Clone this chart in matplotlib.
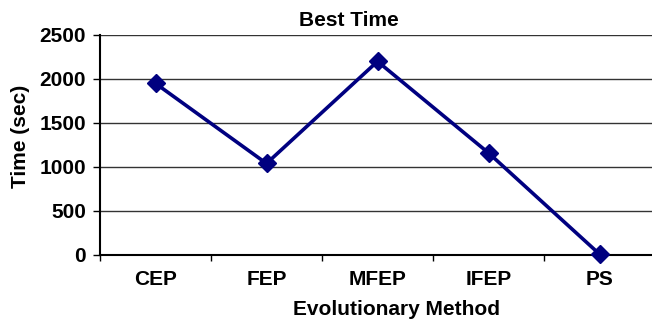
import matplotlib
matplotlib.use("Agg")
import matplotlib.pyplot as plt

methods = ["CEP", "FEP", "MFEP", "IFEP", "PS"]
best_time = [1950, 1040, 2200, 1160, 10]
y_ticks = [0, 500, 1000, 1500, 2000, 2500]

plt.rcParams['font.family'] = ['Liberation Sans', 'DejaVu Sans']
plt.rcParams['font.weight'] = 'bold'

W, H = 652, 323
FS = 15

fig = plt.figure(figsize=(W / 100, H / 100), dpi=100)
ax = fig.add_axes([100 / W, 1 - 255 / H, 555 / W, 220 / H])

x = list(range(len(methods)))
ax.plot(x, best_time, color="#000080", lw=2.6, marker="D", ms=9.5,
        markerfacecolor="#000080", markeredgecolor="#000080", zorder=3,
        clip_on=False)

ax.set_xlim(-0.5, len(methods) - 0.5)
ax.set_ylim(0, 2500)
ax.set_yticks(y_ticks)
ax.set_yticklabels([str(v) for v in y_ticks], fontsize=FS, fontweight='bold')
ax.set_xticks(x)
ax.set_xticklabels(methods, fontsize=FS, fontweight='bold')
ax.set_xticks([i - 0.5 for i in range(len(methods) + 1)], minor=True)
ax.tick_params(axis='x', which='major', length=0, pad=11)
ax.tick_params(axis='x', which='minor', length=4, width=1, direction='out')
ax.tick_params(axis='y', length=5, width=1, direction='out', pad=5)

ax.grid(axis='y', color="#333333", lw=1)
ax.set_axisbelow(True)
for s in ("top", "right"):
    ax.spines[s].set_visible(False)
ax.spines["left"].set_linewidth(1.5)
ax.spines["bottom"].set_linewidth(1.5)

fig.text(349 / W, 1 - 26 / H, "Best Time", fontsize=FS, fontweight='bold',
         ha='center', va='baseline')
fig.text(396 / W, 1 - 315 / H, "Evolutionary Method", fontsize=FS,
         fontweight='bold', ha='center', va='baseline')
fig.text(21 / W, 1 - 136 / H, "Time (sec)", fontsize=FS, fontweight='bold',
         ha='center', va='center', rotation=90)

fig.savefig("out.png", dpi=100)
